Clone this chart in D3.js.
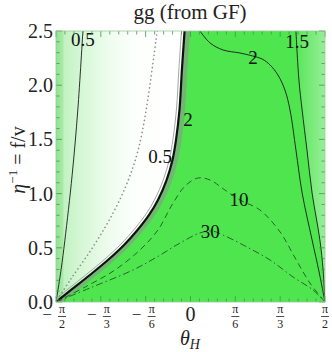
<!DOCTYPE html>
<html>
<head>
<meta charset="utf-8">
<script src="https://cdn.jsdelivr.net/npm/d3@7"></script>
<style>
  body { margin: 0; background: #fff; }
  svg text { font-family: "Liberation Serif", "Times New Roman", "DejaVu Serif", serif; }
</style>
</head>
<body>
<svg width="332" height="352"></svg>
<script>
// theta in units of pi, eta = f/v
const thinHalf = [[-0.40,2.5],[-0.419,1.77],[-0.44,1.17],[-0.467,0.57],[-0.481,0.30],[-0.5,0]];
const dotted = [[-0.124,2.5],[-0.165,1.77],[-0.195,1.40],[-0.232,1.12],[-0.288,0.82],[-0.362,0.51],[-0.448,0.20],[-0.5,0]];
const boundary = [[-0.022,2.5],[-0.032,2.14],[-0.041,1.771],[-0.054,1.494],[-0.067,1.31],[-0.089,1.125],
  [-0.121,0.941],[-0.154,0.803],[-0.197,0.664],[-0.247,0.526],[-0.307,0.387],[-0.374,0.249],[-0.444,0.111],[-0.5,0]];
const two = [[0.035,2.5],[0.073,2.389],[0.121,2.325],[0.184,2.297],[0.232,2.269],[0.266,2.242],[0.296,2.186],
  [0.325,2.094],[0.351,1.956],[0.370,1.771],[0.392,1.402],[0.415,1.006],[0.452,0.572],[0.478,0.277],[0.5,0]];
const oneHalf = [[0.392,2.5],[0.403,2.048],[0.415,1.771],[0.433,1.402],[0.452,1.006],[0.481,0.572],[0.493,0.295],[0.5,0]];
const ten = [[-0.5,0],[-0.392,0.138],[-0.281,0.295],[-0.188,0.48],[-0.121,0.664],[-0.069,0.895],[-0.020,1.07],
  [0.028,1.144],[0.073,1.125],[0.128,1.033],[0.184,0.941],[0.258,0.849],[0.333,0.646],[0.389,0.406],[0.444,0.175],[0.5,0]];
const thirty = [[-0.5,0],[-0.374,0.129],[-0.214,0.295],[-0.125,0.415],[-0.039,0.544],[0.035,0.637],[0.080,0.655],
  [0.121,0.618],[0.210,0.507],[0.296,0.387],[0.381,0.231],[0.455,0.111],[0.5,0]];

const contourLabels = ["0.5", "2", "0.5", "2", "1.5", "10", "30"];
const labelTheta = [-0.400, -0.009, -0.113, 0.232, 0.396, 0.180, 0.073];
const labelEta = [2.417, 1.679, 1.338, 2.26, 2.399, 0.95, 0.646];

const xTicks = [-0.5, -1/3, -1/6, 0, 1/6, 1/3, 0.5];
const xTickLabels = ["−π/2", "−π/3", "−π/6", "0", "π/6", "π/3", "π/2"];
const yTicks = [0, 0.5, 1.0, 1.5, 2.0, 2.5];
const yTickLabels = ["0.0", "0.5", "1.0", "1.5", "2.0", "2.5"];

const svg = d3.select("svg");
const x = d3.scaleLinear().domain([-0.5, 0.5]).range([56, 325]);
const y = d3.scaleLinear().domain([0, 2.5]).range([302, 31]);
const [x0, x1] = x.range();
const [y0, y1] = y.range();
const ink = "#222";

const line = d3.line().x(d => x(d[0])).y(d => y(d[1])).curve(d3.curveCatmullRom.alpha(0.5));

const defs = svg.append("defs");
defs.append("clipPath").attr("id", "plot")
  .append("rect").attr("x", x0).attr("y", y1).attr("width", x1 - x0).attr("height", y0 - y1);

const gl = defs.append("linearGradient").attr("id", "leftGrad")
  .attr("gradientUnits", "userSpaceOnUse").attr("x1", x0).attr("x2", x(0)).attr("y1", 0).attr("y2", 0);
[[0, "#8fe38f"], [0.05, "#a8eaa8"], [0.06, "#c2f2c2"], [0.19, "#d6f7d6"], [0.4, "#effcef"], [0.6, "#fdfffd"], [1, "#ffffff"]]
  .forEach(s => gl.append("stop").attr("offset", s[0]).attr("stop-color", s[1]));

const gr = defs.append("linearGradient").attr("id", "rightGrad")
  .attr("gradientUnits", "userSpaceOnUse").attr("x1", x(0.39)).attr("x2", x1).attr("y1", 0).attr("y2", 0);
[[0, "#55e655"], [1, "#98ee98"]]
  .forEach(s => gr.append("stop").attr("offset", s[0]).attr("stop-color", s[1]));

const g = svg.append("g").attr("clip-path", "url(#plot)");

// base fill
g.append("rect").attr("x", x0).attr("y", y1).attr("width", x1 - x0).attr("height", y0 - y1)
  .attr("fill", "#4fe54f");

// region right of the 1.5 contour
g.append("path")
  .attr("d", line(oneHalf) + `L${x1},${y0}L${x1},${y1}Z`)
  .attr("fill", "url(#rightGrad)");

// gray band right of boundary
g.append("path").attr("d", line(boundary))
  .attr("transform", "translate(3,0)")
  .attr("fill", "none").attr("stroke", "#74b474").attr("stroke-width", 5);

// light region left of the boundary
g.append("path")
  .attr("d", line(boundary) + `L${x0},${y0}L${x0},${y1}Z`)
  .attr("fill", "url(#leftGrad)");

g.append("path").attr("d", line(boundary))
  .attr("transform", "translate(-3,-1)")
  .attr("fill", "none").attr("stroke", "#a0a8a0").attr("stroke-width", 1);
g.append("path").attr("d", line(boundary))
  .attr("fill", "none").attr("stroke", "#111").attr("stroke-width", 2.2);

// thin contours
[thinHalf, two, oneHalf].forEach(c => {
  g.append("path").attr("d", line(c))
    .attr("fill", "none").attr("stroke", "#1a1a1a").attr("stroke-width", 0.9);
});

g.append("path").attr("d", line(dotted))
  .attr("fill", "none").attr("stroke", "#8c8c8c").attr("stroke-width", 1.6)
  .attr("stroke-linecap", "round").attr("stroke-dasharray", "0.1,4");

g.append("path").attr("d", line(ten))
  .attr("fill", "none").attr("stroke", "#2a642a").attr("stroke-width", 1)
  .attr("stroke-dasharray", "6,4");

g.append("path").attr("d", line(thirty))
  .attr("fill", "none").attr("stroke", "#2a642a").attr("stroke-width", 1)
  .attr("stroke-dasharray", "7,3,1.5,3");

// contour labels
contourLabels.forEach((t, i) => {
  svg.append("text")
    .attr("x", x(labelTheta[i])).attr("y", y(labelEta[i]))
    .attr("text-anchor", "middle").attr("dominant-baseline", "central")
    .attr("font-size", 19).attr("fill", "#111")
    .text(t);
});

// ticks on all four sides
const tickColor = "#3f9a3f";
const xMinor = d3.range(-0.5, 0.5001, 1 / 30);
const yMinor = d3.range(0, 2.5001, 0.1);
const ticks = svg.append("g").attr("stroke", tickColor).attr("stroke-width", 0.8);
xMinor.forEach(v => {
  const major = xTicks.some(t => Math.abs(t - v) < 1e-6);
  const len = major ? 6 : 3.5;
  ticks.append("line").attr("x1", x(v)).attr("x2", x(v)).attr("y1", y0).attr("y2", y0 - len);
  ticks.append("line").attr("x1", x(v)).attr("x2", x(v)).attr("y1", y1).attr("y2", y1 + len);
});
yMinor.forEach(v => {
  const major = yTicks.some(t => Math.abs(t - v) < 1e-6);
  const len = major ? 6 : 3.5;
  ticks.append("line").attr("y1", y(v)).attr("y2", y(v)).attr("x1", x0).attr("x2", x0 + len);
  ticks.append("line").attr("y1", y(v)).attr("y2", y(v)).attr("x1", x1).attr("x2", x1 - len);
});

svg.append("rect").attr("x", x0).attr("y", y1).attr("width", x1 - x0).attr("height", y0 - y1)
  .attr("fill", "none").attr("stroke", "#9fc99f").attr("stroke-width", 0.8);

// y tick labels
yTicks.forEach((v, i) => {
  svg.append("text").attr("x", x0 - 3).attr("y", y(v))
    .attr("text-anchor", "end").attr("dominant-baseline", "central")
    .attr("font-size", 20).attr("fill", ink).text(yTickLabels[i]);
});

// x tick labels as fractions
xTicks.forEach((v, i) => {
  const lab = xTickLabels[i];
  const cx = x(v);
  if (!lab.includes("/")) {
    svg.append("text").attr("x", cx).attr("y", 321)
      .attr("text-anchor", "middle").attr("font-size", 20).attr("fill", ink).text(lab);
    return;
  }
  const neg = lab.startsWith("−");
  const [num, den] = lab.replace("−", "").split("/");
  const fx = neg ? cx + 6 : cx;
  if (neg) {
    svg.append("text").attr("x", cx - 9).attr("y", 320)
      .attr("text-anchor", "middle").attr("font-size", 17).attr("fill", ink).text("−");
  }
  svg.append("text").attr("x", fx).attr("y", 313)
    .attr("text-anchor", "middle").attr("font-size", 12).attr("fill", ink).text(num);
  svg.append("line").attr("x1", fx - 4).attr("x2", fx + 4).attr("y1", 316.5).attr("y2", 316.5)
    .attr("stroke", ink).attr("stroke-width", 0.8);
  svg.append("text").attr("x", fx).attr("y", 327.5)
    .attr("text-anchor", "middle").attr("font-size", 12).attr("fill", ink).text(den);
});

// titles
svg.append("text").attr("x", 190).attr("y", 19)
  .attr("text-anchor", "middle").attr("font-size", 21).attr("fill", ink).text("gg (from GF)");

const xt = svg.append("text").attr("x", 190).attr("y", 345)
  .attr("text-anchor", "middle").attr("font-size", 20).attr("fill", ink);
xt.append("tspan").attr("font-style", "italic").text("θ");
xt.append("tspan").attr("font-style", "italic").attr("font-size", 14).attr("dy", 4).text("H");

const yt = svg.append("text").attr("transform", "translate(25,160) rotate(-90)")
  .attr("text-anchor", "middle").attr("font-size", 20).attr("fill", ink);
yt.append("tspan").attr("font-style", "italic").text("η");
yt.append("tspan").attr("font-size", 13).attr("dy", -8).text("−1");
yt.append("tspan").attr("dy", 8).text(" = f/v");
</script>
</body>
</html>
